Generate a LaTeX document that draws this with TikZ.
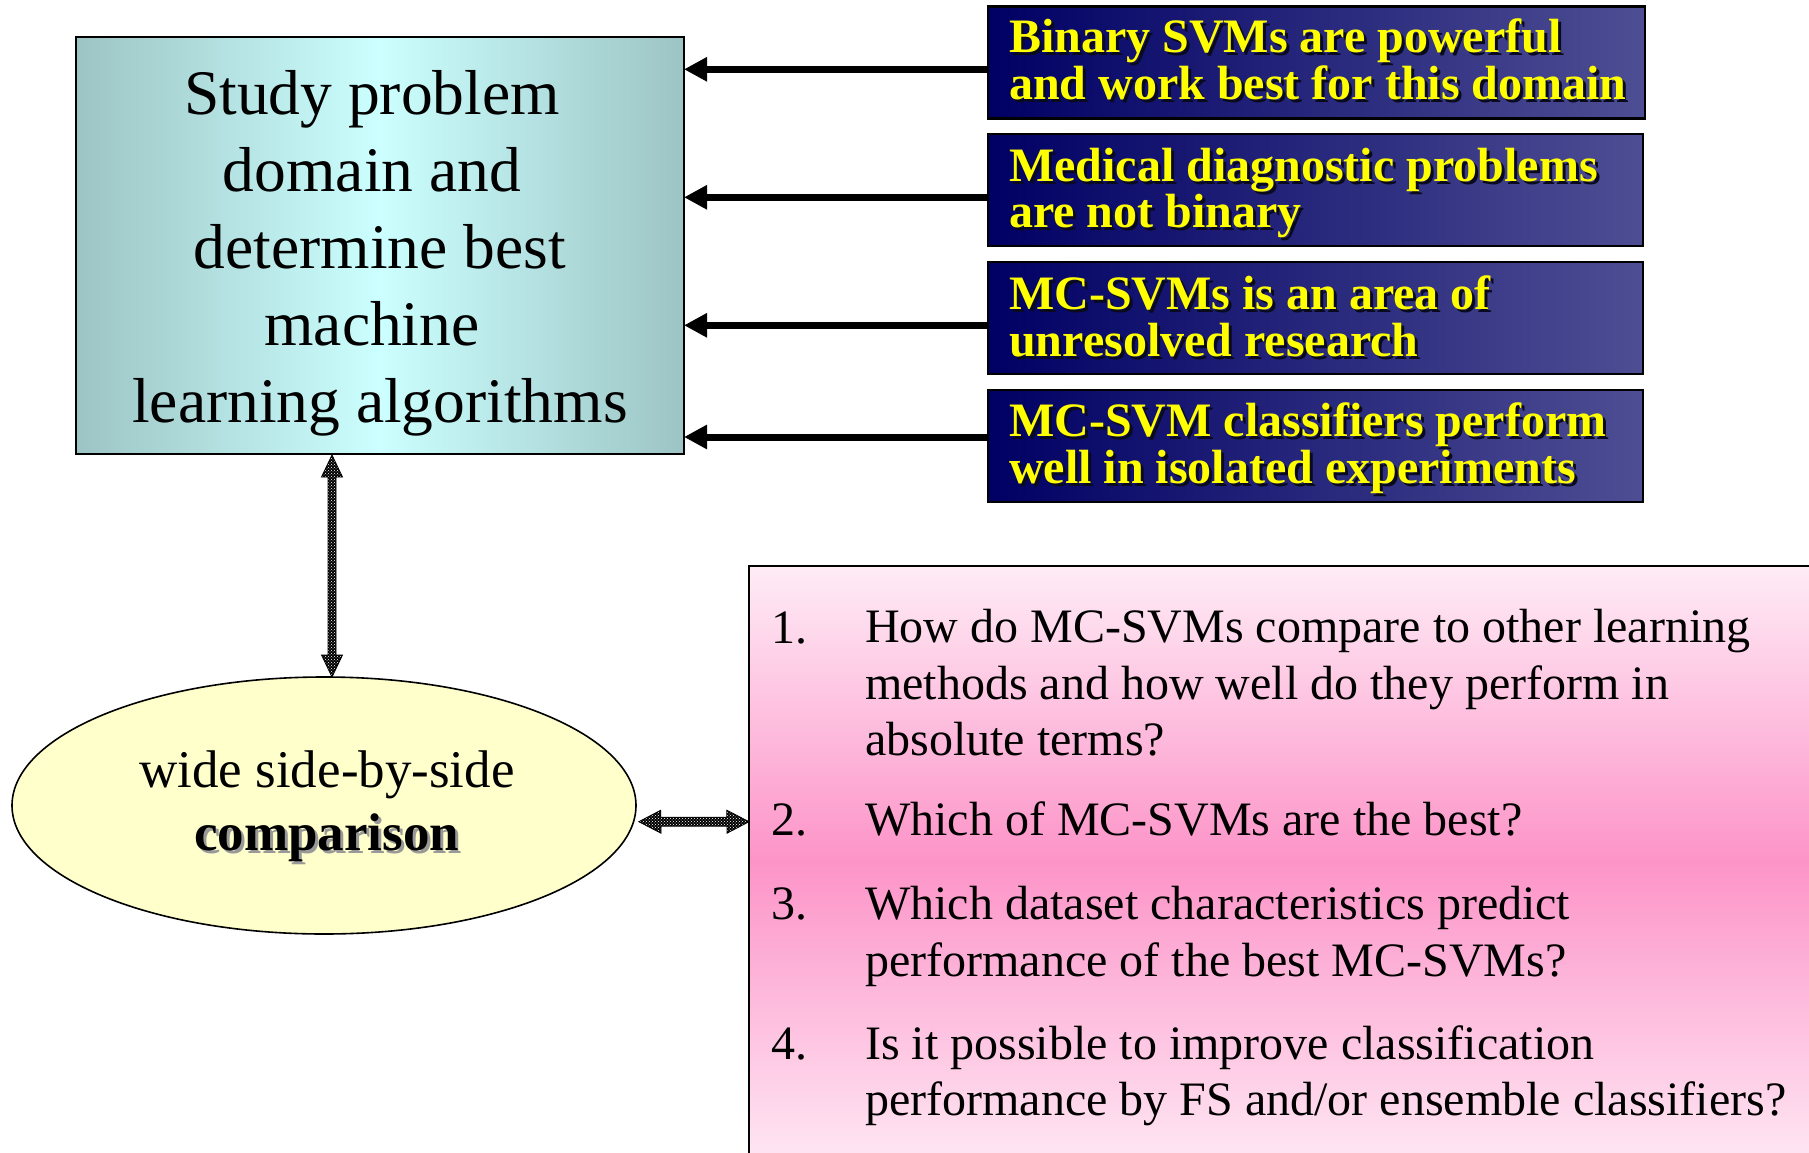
\documentclass[tikz,border=0pt]{standalone}
\usepackage{fontspec}
\setmainfont{Liberation Serif}
\usetikzlibrary{arrows.meta,shapes.geometric,patterns}

\definecolor{tealedge}{RGB}{157,196,196}
\definecolor{tealmid}{RGB}{204,255,255}
\definecolor{navyleft}{RGB}{0,0,100}
\definecolor{navyright}{RGB}{78,78,148}
\definecolor{paleyellow}{RGB}{255,255,204}
\definecolor{pinklight}{RGB}{254,236,246}
\definecolor{pinkdeep}{RGB}{253,148,200}
\definecolor{pinkbottom}{RGB}{254,230,243}
\definecolor{factyellow}{RGB}{255,255,0}
\definecolor{factshadow}{RGB}{10,10,30}

\begin{document}
\begin{tikzpicture}[x=1pt,y=-1pt,
  mainbox/.style={rectangle, draw=black, line width=2pt, inner sep=0pt, outer sep=0pt,
    left color=tealedge, right color=tealedge, middle color=tealmid},
  factbox/.style={rectangle, draw=black, line width=2.5pt, inner sep=0pt, outer sep=0pt,
    left color=navyleft, right color=navyright,
    minimum width=657pt, minimum height=112pt, anchor=north west},
  facttext/.style={anchor=base west, align=left, inner sep=0pt, text=factyellow,
    font=\bfseries\fontsize{48}{46.6}\selectfont},
  factshade/.style={facttext, text=factshadow},
  cmpshape/.style={ellipse, draw=black, line width=1.6pt, fill=paleyellow,
    inner sep=0pt, minimum width=624pt, minimum height=257pt},
  qbox/.style={rectangle, draw=black, line width=2pt, inner sep=0pt, outer sep=0pt,
    top color=pinklight, bottom color=pinkbottom, middle color=pinkdeep, anchor=north west},
  qnum/.style={anchor=base west, inner sep=0pt, font=\fontsize{48}{56.5}\selectfont},
  qtext/.style={anchor=base west, align=left, inner sep=0pt, font=\fontsize{48}{56.5}\selectfont},
  feed/.style={line width=7pt, -{Triangle[length=23pt,width=23pt]}},
  blk/.style={preaction={fill=black}, pattern=crosshatch dots, pattern color=white,
    draw=black, line width=0.8pt, line join=miter}
]
% page
\useasboundingbox[fill=white] (0,0) rectangle (1809,1153);

% central study box (multi-line nodes are placed by the baseline of their last line)
\node[mainbox, minimum width=608pt, minimum height=416pt, anchor=north west] (main) at (76,37.5) {};
\node[anchor=base, align=center, inner sep=0pt, font=\fontsize{63.5}{77}\selectfont] (maintext) at (380,422)
  {Study problem\rule{16pt}{0pt}\\domain and\rule{16pt}{0pt}\\determine best\\machine\rule{16pt}{0pt}\\learning algorithms};

% four fact boxes
\node[factbox] (r1) at (988,6.5) {};
\node[factbox, minimum width=655pt] (r2) at (988,134) {};
\node[factbox, minimum width=655pt] (r3) at (988,262) {};
\node[factbox, minimum width=655pt] (r4) at (988,390) {};

\node[factshade] (r1s) at (1012,102.3) {Binary SVMs are powerful\\and work best for this domain};
\node[facttext]  (r1t) at (1009,99.3) {Binary SVMs are powerful\\and work best for this domain};
\node[factshade] (r2s) at (1012,230.7) {Medical diagnostic problems\\are not binary};
\node[facttext]  (r2t) at (1009,227.7) {Medical diagnostic problems\\are not binary};
\node[factshade] (r3s) at (1012,359) {MC-SVMs is an area of\\unresolved research};
\node[facttext]  (r3t) at (1009,356) {MC-SVMs is an area of\\unresolved research};
\node[factshade] (r4s) at (1012,486.3) {MC-SVM classifiers perform\\well in isolated experiments};
\node[facttext]  (r4t) at (1009,483.3) {MC-SVM classifiers perform\\well in isolated experiments};

% arrows from the facts into the study box
\coordinate (a1) at (988,69.3);
\coordinate (a2) at (988,197.3);
\coordinate (a3) at (988,325.3);
\coordinate (a4) at (988,437);
\foreach \k in {1,2,3,4} \draw[feed] (a\k) -- (main.east |- a\k);

% comparison ellipse
\node[cmpshape] (cmp) at (324,805.5) {};
\node[anchor=base, inner sep=0pt, font=\fontsize{53}{63}\selectfont] (cmp1) at (327,787) {wide side-by-side};
\node[anchor=base, inner sep=0pt, text=black!40, font=\bfseries\fontsize{53}{63}\selectfont] (cmp2s) at (329.5,853) {comparison};
\node[anchor=base, inner sep=0pt, font=\bfseries\fontsize{53}{63}\selectfont] (cmp2) at (326.5,850) {comparison};

% research questions
\node[qbox, minimum width=1075pt, minimum height=592pt] (q) at (749,565.5) {};
\node[qnum] (n1) at (771,643) {1.};
\node[qtext] (q1) at (865,755.7) {How do MC-SVMs compare to other learning\\methods and how well do they perform in\\absolute terms?};
\node[qnum] (n2) at (771,835) {2.};
\node[qtext] (q2) at (865,835) {Which of MC-SVMs are the best?};
\node[qnum] (n3) at (771,919.5) {3.};
\node[qtext] (q3) at (865,976) {Which dataset characteristics predict\\performance of the best MC-SVMs?};
\node[qnum] (n4) at (771,1059) {4.};
\node[qtext] (q4) at (865,1115.5) {Is it possible to improve classification\\performance by FS and/or ensemble classifiers?};

% patterned two-way links
\coordinate (vt) at (332,455);
\coordinate (vb) at (332,677);
\path[blk] (vt) -- ++(10.5,22) -- ++(-6.5,0) -- ++(0,178) -- ++(6.5,0) -- (vb)
  -- ++(-10.5,-22) -- ++(6.5,0) -- ++(0,-178) -- ++(-6.5,0) -- cycle;

\coordinate (ht) at ([xshift=2pt]cmp.east |- 0,821.7);
\coordinate (hb) at (q.west |- ht);
\path[blk] (ht) -- ++(22,-11.5) -- ++(0,7) -- ++(66,0) -- ++(0,-7) -- (hb)
  -- ++(-22,11.5) -- ++(0,-7) -- ++(-66,0) -- ++(0,7) -- cycle;
\end{tikzpicture}
\end{document}
